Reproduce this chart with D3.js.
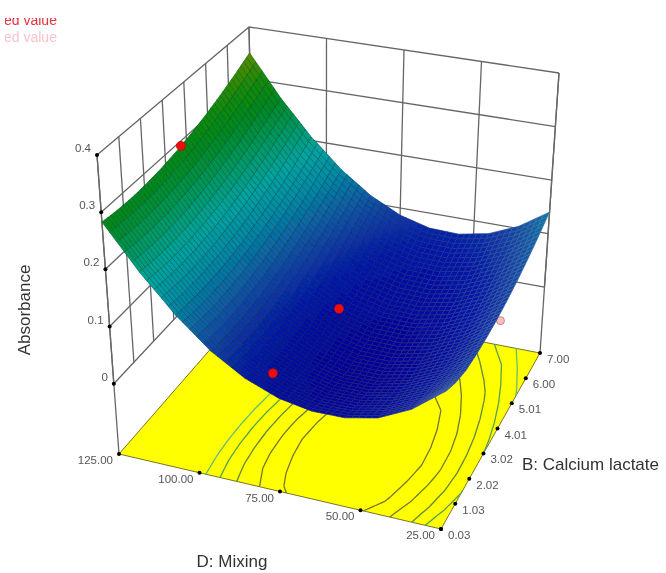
<!DOCTYPE html>
<html>
<head>
<meta charset="utf-8">
<script src="https://cdn.jsdelivr.net/npm/d3@7"></script>
<style>
  body { margin: 0; background: #fff; }
  text { font-family: "Liberation Sans", Arial, sans-serif; }
</style>
</head>
<body>
<svg id="chart" width="666" height="573"></svg>
<script>
// Tick labels on the three axes
const mixingTicks = ["125.00", "100.00", "75.00", "50.00", "25.00"];
const calciumTicks = ["0.03", "1.03", "2.02", "3.02", "4.01", "5.01", "6.00", "7.00"];
const absorbanceTicks = ["0", "0.1", "0.2", "0.3", "0.4"];

const mixingValues = [125, 115, 105, 95, 85, 75, 65, 55, 45, 35, 25];
const calciumValues = [7.0, 6.3, 5.61, 4.91, 4.21, 3.52, 2.82, 2.12, 1.42, 0.73, 0.03];

// Absorbance: one row per calciumValues entry, one column per mixingValues entry
const absorbance = [
  [0.3498, 0.2717, 0.2065, 0.1538, 0.1138, 0.0865, 0.0718, 0.07, 0.0807, 0.1041, 0.1402],
  [0.333, 0.2553, 0.1903, 0.1379, 0.0981, 0.0711, 0.0567, 0.0551, 0.0661, 0.0897, 0.1262],
  [0.3185, 0.241, 0.1762, 0.1241, 0.0846, 0.0579, 0.0438, 0.0425, 0.0538, 0.0776, 0.1143],
  [0.3061, 0.2289, 0.1644, 0.1126, 0.0733, 0.0469, 0.0331, 0.032, 0.0436, 0.0677, 0.1047],
  [0.2961, 0.2191, 0.1549, 0.1033, 0.0644, 0.0382, 0.0246, 0.0239, 0.0357, 0.0601, 0.0973],
  [0.2882, 0.2115, 0.1476, 0.0963, 0.0576, 0.0317, 0.0184, 0.0179, 0.03, 0.0547, 0.0922],
  [0.2826, 0.2062, 0.1426, 0.0916, 0.0531, 0.0275, 0.0145, 0.0142, 0.0266, 0.0516, 0.0894],
  [0.2793, 0.2031, 0.1398, 0.089, 0.0509, 0.0255, 0.0127, 0.0128, 0.0254, 0.0507, 0.0887],
  [0.2781, 0.2022, 0.1392, 0.0887, 0.0515, 0.028, 0.016, 0.016, 0.029, 0.054, 0.0903],
  [0.2793, 0.2036, 0.1408, 0.0906, 0.054, 0.032, 0.021, 0.022, 0.034, 0.059, 0.098],
  [0.2826, 0.2073, 0.1447, 0.0948, 0.06, 0.038, 0.028, 0.029, 0.041, 0.068, 0.111],
];

// Design points: mixing, calcium lactate, absorbance
const pointMixing = [125, 75, 76.5, 25];
const pointCalcium = [3.75, 3.52, 0.03, 3.8];
const pointAbsorbance = [0.291, 0.057, 0.079, 0.079];
const pointBelow = [false, false, false, true];

// Contour levels on the floor
const contourLevels = [0.036, 0.052, 0.072, 0.09, 0.11];
const contourColors = ["#77752a", "#6f7a2c", "#64863a", "#58a050", "#66bb77"];

const root = d3.select("#chart");
root.append("defs").append("filter").attr("id", "soft")
  .attr("x", 0).attr("y", 0).attr("width", 1).attr("height", 1)
  .append("feGaussianBlur").attr("stdDeviation", 0.6);
const svg = root.append("g").attr("filter", "url(#soft)");
svg.append("rect").attr("width", 666).attr("height", 573).attr("fill", "#fff");

// Box corners on screen: floor and top of the left, front, right and back verticals
const floorCorners = [[119, 454], [441, 529], [540, 353], [255, 298]];
const topCorners = [[97, 155], [452, 221], [559, 73], [249, 27]];
const zFloor = -0.123;
const zTop = 0.4;

const uScale = d3.scaleLinear().domain([125, 25]).range([0, 1]);
const vScale = d3.scaleLinear().domain([0.03, 7]).range([0, 1]);
const wScale = d3.scaleLinear().domain([zFloor, zTop]).range([0, 1]);

// The tick spacing in the picture is even, so the box is mapped bilinearly
function blend(corners, u, v) {
  const [a, b, c, d] = corners;
  return [0, 1].map((k) =>
    (1 - v) * ((1 - u) * a[k] + u * b[k]) + v * ((1 - u) * d[k] + u * c[k]));
}
function project(u, v, z) {
  const lo = blend(floorCorners, u, v);
  const hi = blend(topCorners, u, v);
  return d3.interpolateArray(lo, hi)(wScale(z));
}

const line = d3.line();
const drawLine = (g, pts, color, width) =>
  g.append("path").attr("d", line(pts)).attr("fill", "none")
    .attr("stroke", color).attr("stroke-width", width);

// Walls
const wallColor = "#666";
const walls = svg.append("g");
const zScaleValues = absorbanceTicks.map(Number);
const vTicks = calciumTicks.map((d) => vScale(+d));
const uTicks = mixingTicks.map((d) => uScale(+d));

zScaleValues.forEach((z) => {
  drawLine(walls, [project(0, 0, z), project(0, 1, z), project(1, 1, z)], wallColor, 1.3);
});
vTicks.forEach((v) => {
  drawLine(walls, [project(0, v, 0), project(0, v, zTop)], wallColor, 1.3);
});
uTicks.forEach((u) => {
  drawLine(walls, [project(u, 1, 0), project(u, 1, zTop)], wallColor, 1.3);
});
drawLine(walls, [project(0, 0, zFloor), project(0, 0, zTop)], wallColor, 1.3);
drawLine(walls, [project(1, 1, zFloor), project(1, 1, zTop)], wallColor, 1.3);

// Floor
const floorCornersUV = [[0, 0], [1, 0], [1, 1], [0, 1]];
svg.append("path")
  .attr("d", line(floorCornersUV.map((d) => project(d[0], d[1], zFloor))) + "Z")
  .attr("fill", "#ffff00")
  .attr("stroke", "#77752a")
  .attr("stroke-width", 1);

// Surface shaded at 5 facets per table cell, blended bilinearly between table readings
const sub = 5;
const nU = (mixingValues.length - 1) * sub + 1;
const nV = (calciumValues.length - 1) * sub + 1;
function surfaceZ(i, j) {
  // i runs along mixing from 125, j along calcium from 7
  const c0 = Math.min(Math.floor(i / sub), mixingValues.length - 2);
  const r0 = Math.min(Math.floor(j / sub), calciumValues.length - 2);
  const fc = i / sub - c0, fr = j / sub - r0;
  const top = d3.interpolateNumber(absorbance[r0][c0], absorbance[r0][c0 + 1])(fc);
  const bot = d3.interpolateNumber(absorbance[r0 + 1][c0], absorbance[r0 + 1][c0 + 1])(fc);
  return d3.interpolateNumber(top, bot)(fr);
}
const uOf = (i) => i / (nU - 1);
const vOf = (j) => 1 - j / (nV - 1);

// Contours on the floor
const grid = new Array(nU * nV);
for (let j = 0; j < nV; j++) {
  for (let i = 0; i < nU; i++) grid[i + j * nU] = surfaceZ(i, j);
}
const contourGen = d3.contours().size([nU, nV]).thresholds(contourLevels);
const toFloor = (p) => {
  const i = Math.max(0, Math.min(nU - 1, p[0] - 0.5));
  const j = Math.max(0, Math.min(nV - 1, p[1] - 0.5));
  return project(uOf(i), vOf(j), zFloor);
};
const onEdge = (a, b) =>
  (a[0] <= 0.5 && b[0] <= 0.5) || (a[0] >= nU - 0.5 && b[0] >= nU - 0.5) ||
  (a[1] <= 0.5 && b[1] <= 0.5) || (a[1] >= nV - 0.5 && b[1] >= nV - 0.5);
contourGen(grid).forEach((c, k) => {
  let d = "";
  c.coordinates.forEach((poly) => {
    poly.forEach((ring) => {
      for (let s = 1; s < ring.length; s++) {
        if (onEdge(ring[s - 1], ring[s])) continue;
        d += "M" + toFloor(ring[s - 1]) + "L" + toFloor(ring[s]);
      }
    });
  });
  svg.append("path").attr("d", d).attr("fill", "none")
    .attr("stroke", contourColors[k]).attr("stroke-width", 1.3);
});

// Pink point sits below the surface, so it goes first
const points = pointMixing.map((d, i) => ({
  u: uScale(d), v: vScale(pointCalcium[i]), z: pointAbsorbance[i], below: pointBelow[i],
}));
const drawPoints = (data) =>
  svg.append("g").selectAll("circle").data(data).join("circle")
    .attr("cx", (d) => project(d.u, d.v, d.z)[0])
    .attr("cy", (d) => project(d.u, d.v, d.z)[1])
    .attr("r", (d) => (d.below ? 4 : 4.5))
    .attr("fill", (d) => (d.below ? "#f6c0c0" : "#ee0a0a"))
    .attr("stroke", (d) => (d.below ? "#c07070" : "#c00808"))
    .attr("stroke-width", 0.8);
drawPoints(points.filter((d) => d.below));

// Colour ramp for the surface
const surfaceColor = d3.scaleLinear()
  .domain([0.012, 0.06, 0.1, 0.15, 0.19, 0.23, 0.27, 0.3, 0.35])
  .range(["#000098", "#0018a8", "#104aa4", "#0088a4", "#00a4a0", "#009860", "#008820", "#0a8a0a", "#5c8c00"])
  .clamp(true);

// Paint back to front: far corner is D=125, B=7
const cells = [];
for (let j = 0; j < nV - 1; j++) {
  for (let i = 0; i < nU - 1; i++) {
    const z00 = surfaceZ(i, j), z10 = surfaceZ(i + 1, j);
    const z11 = surfaceZ(i + 1, j + 1), z01 = surfaceZ(i, j + 1);
    cells.push({
      pts: [
        project(uOf(i), vOf(j), z00), project(uOf(i + 1), vOf(j), z10),
        project(uOf(i + 1), vOf(j + 1), z11), project(uOf(i), vOf(j + 1), z01),
      ],
      z: (z00 + z10 + z11 + z01) / 4,
      u: uOf(i),
    });
  }
}
// Mesh lines read dark on the green side and pale on the far blue side
const meshTone = d3.scaleLinear().domain([0, 0.45, 1]).range(["#004020", "#181850", "#8078a8"]);
svg.append("g").selectAll("path").data(cells).join("path")
  .attr("d", (d) => line(d.pts) + "Z")
  .attr("fill", (d) => surfaceColor(d.z))
  .attr("stroke", (d) => d3.interpolateRgb(surfaceColor(d.z), meshTone(d.u))(0.5))
  .attr("stroke-width", 0.7);

drawPoints(points.filter((d) => !d.below));

// Ticks and labels
const tickFont = 11.5;
const tickGray = "#555";
function tickMark(p) {
  svg.append("circle").attr("cx", p[0]).attr("cy", p[1]).attr("r", 2).attr("fill", "#000");
}
function tickLabel(p, text, anchor, dx, dy) {
  svg.append("text").attr("x", p[0] + dx).attr("y", p[1] + dy)
    .attr("text-anchor", anchor).attr("font-size", tickFont).attr("fill", tickGray).text(text);
}
absorbanceTicks.forEach((t) => {
  const p = project(0, 0, +t);
  tickMark(p);
  tickLabel(p, t, "end", -6, -3);
});
mixingTicks.forEach((t) => {
  const p = project(uScale(+t), 0, zFloor);
  tickMark(p);
  tickLabel(p, t, "end", -6, 10);
});
calciumTicks.forEach((t) => {
  const p = project(1, vScale(+t), zFloor);
  tickMark(p);
  tickLabel(p, t, "start", 7, 10);
});

// Axis titles
const titleStyle = (s) => s.attr("font-size", 17).attr("fill", "#333");
svg.append("text").attr("x", 232).attr("y", 567).attr("text-anchor", "middle")
  .call(titleStyle).text("D: Mixing");
svg.append("text").attr("x", 522).attr("y", 470).call(titleStyle).text("B: Calcium lactate");
svg.append("text").attr("transform", "translate(30,310) rotate(-90)")
  .attr("text-anchor", "middle").call(titleStyle).text("Absorbance");

// Legend left over from the cropped original
svg.append("defs").append("clipPath").attr("id", "legendClip")
  .append("rect").attr("x", 5).attr("y", 18).attr("width", 120).attr("height", 40);
const legend = svg.append("g").attr("clip-path", "url(#legendClip)").attr("font-size", 14);
legend.append("text").attr("x", 4).attr("y", 25).attr("fill", "#e8303c").text("ed value");
legend.append("text").attr("x", 4).attr("y", 42).attr("fill", "#f8c4cc").text("ed value");
</script>
</body>
</html>
